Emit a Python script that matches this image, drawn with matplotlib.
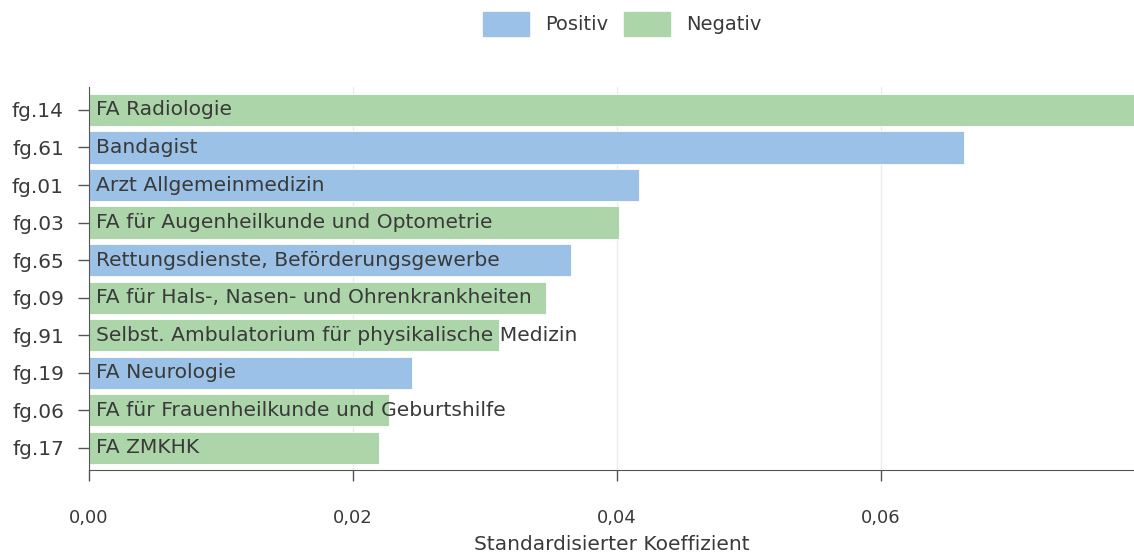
import matplotlib
matplotlib.use('Agg')
import matplotlib.pyplot as plt
from matplotlib.patches import Patch

plt.rcParams['font.family'] = ['DejaVu Sans']

codes = ['fg.14', 'fg.61', 'fg.01', 'fg.03', 'fg.65', 'fg.09', 'fg.91', 'fg.19', 'fg.06', 'fg.17']
names = ['FA Radiologie', 'Bandagist', 'Arzt Allgemeinmedizin',
         'FA für Augenheilkunde und Optometrie', 'Rettungsdienste, Beförderungsgewerbe',
         'FA für Hals-, Nasen- und Ohrenkrankheiten',
         'Selbst. Ambulatorium für physikalische Medizin', 'FA Neurologie',
         'FA für Frauenheilkunde und Geburtshilfe', 'FA ZMKHK']
coef = [0.0792, 0.0663, 0.0417, 0.0402, 0.0365, 0.0346, 0.0311, 0.0245, 0.0227, 0.0220]
sign = ['Negativ', 'Positiv', 'Positiv', 'Negativ', 'Positiv', 'Negativ', 'Negativ',
        'Positiv', 'Negativ', 'Negativ']

colors = {'Positiv': '#9bc2e6', 'Negativ': '#acd6a9'}
txt = '#3a3a3a'

fig = plt.figure(figsize=(11.34, 5.56), dpi=100)
ax = fig.add_axes([89 / 1134, 1 - 470 / 556, (1134 - 89) / 1134, (470 - 87) / 556])

y = list(range(len(codes)))
ax.barh(y, coef, height=0.86, color=[colors[s] for s in sign],
        edgecolor='white', linewidth=0.6, zorder=2)
for yi, n in zip(y, names):
    ax.text(0.0005, yi, n, va='center', ha='left', fontsize=14.6, color=txt, zorder=3)

ax.set_ylim(9.59, -0.61)
ax.set_xlim(0, max(coef))
ax.set_yticks(y)
ax.set_yticklabels(codes, fontsize=14.5, color=txt)
ax.set_xticks([0, 0.02, 0.04, 0.06])
ax.set_xticklabels(['0,00', '0,02', '0,04', '0,06'], fontsize=13, color=txt)
ax.tick_params(axis='y', length=8, width=1, color='#555555', pad=10)
ax.tick_params(axis='x', length=8, width=1, color='#555555', pad=20)
ax.set_xlabel('Standardisierter Koeffizient', fontsize=14.5, color=txt, labelpad=6)
ax.grid(axis='x', color='#ebebeb', linewidth=1, zorder=0)
for s in ['top', 'right']:
    ax.spines[s].set_visible(False)
ax.spines['left'].set_color('#555555')
ax.spines['bottom'].set_color('#555555')

handles = [Patch(color=colors['Positiv'], label='Positiv'),
           Patch(color=colors['Negativ'], label='Negativ')]
fig.legend(handles=handles, loc='center', bbox_to_anchor=(622 / 1134, 1 - 24 / 556),
           ncol=2, frameon=False, fontsize=14, handlelength=2.4, handleheight=1.6,
           columnspacing=0.8, handletextpad=0.8, labelcolor=txt)

fig.savefig('out.png', dpi=100)
